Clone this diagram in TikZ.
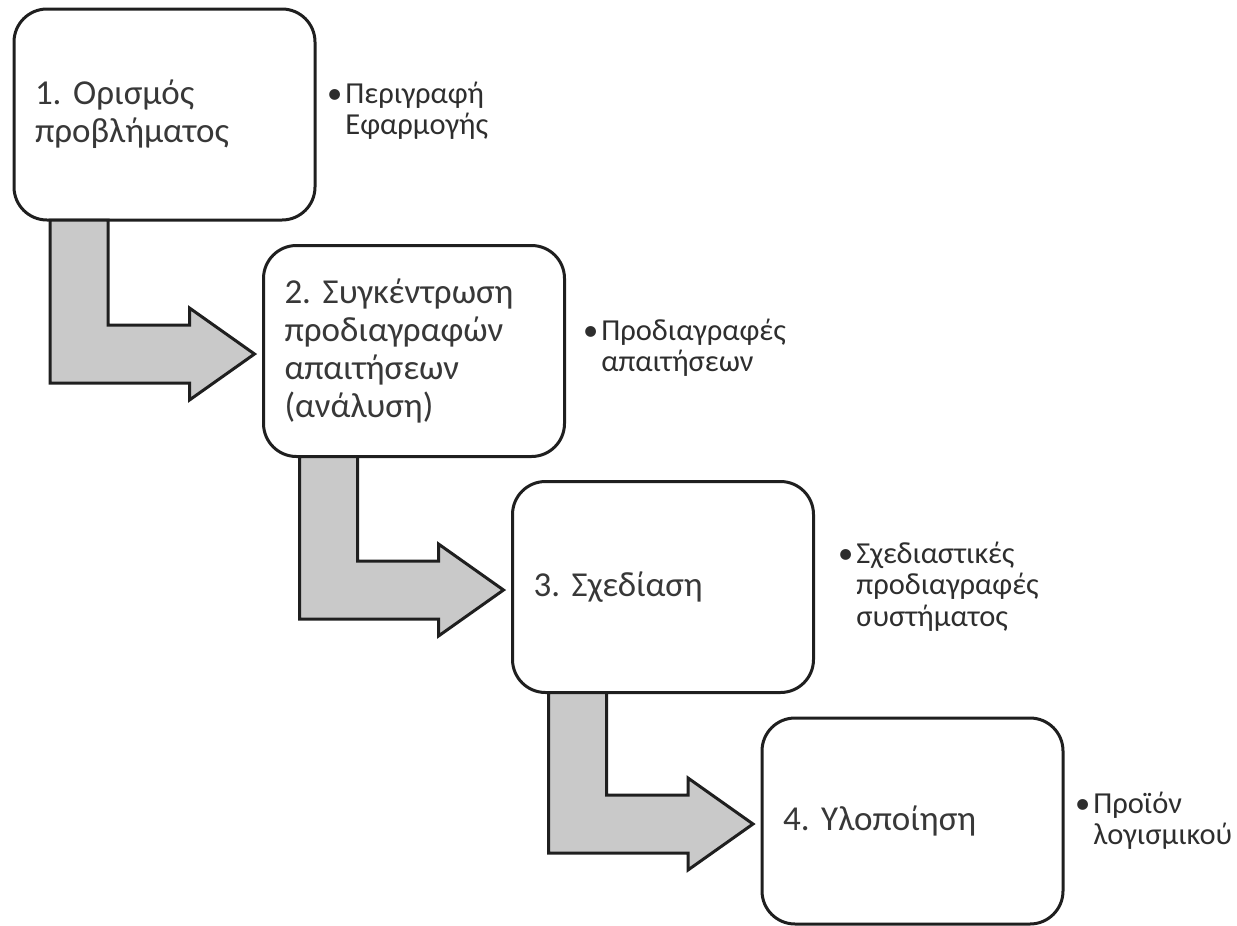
\documentclass[tikz,border=0pt]{standalone}
\usepackage{fontspec}
\setmainfont{Carlito}
\frenchspacing
\usetikzlibrary{calc}
\tikzset{
  stage/.style={draw=black!88, line width=3pt, rounded corners=33pt, fill=white,
    minimum width=301pt, minimum height=211pt, text width=259pt, inner xsep=21pt,
    inner ysep=0pt, align=left, outer sep=0pt, font=\fontsize{35}{38}\selectfont, text=black!78},
  note/.style={anchor=base west, inner sep=0pt, font=\fontsize{30.5}{31.5}\selectfont, text=black!82},
  flowarrow/.style={draw=black!88, line width=3pt, fill=black!21, line join=miter}
}
\newcommand{\bentarrow}[2]{%
  \draw[flowarrow] let \p1=($(#1.south west)+(36pt,0)$), \p2=($(#2.west)+(-9pt,-3pt)$) in
    (\x1,\y1) -- (\x1+58pt,\y1) -- (\x1+58pt,\y2+29pt) -- (\x2-65pt,\y2+29pt)
    -- (\x2-65pt,\y2+46pt) -- (\x2,\y2) -- (\x2-65pt,\y2-46pt) -- (\x2-65pt,\y2-29pt)
    -- (\x1,\y2-29pt) -- cycle;}
\begin{document}
\begin{tikzpicture}[x=1pt,y=-1pt]
\useasboundingbox (0,0) rectangle (1237,926);
\node[stage] (b1) at (164.5,114.5) {1. Ορισμός\\προβλήματος};
\node[stage] (b2) at (414,351) {2. Συγκέντρωση\\προδιαγραφών\\απαιτήσεων\\(ανάλυση)};
\node[stage] (b3) at (663,587) {3. Σχεδίαση};
\node[stage, minimum height=206pt] (b4) at (912.5,821) {4. Υλοποίηση};
\bentarrow{b1}{b2}
\bentarrow{b2}{b3}
\bentarrow{b3}{b4}
\node[note] (n1) at (327,103) {\begin{tabular}[t]{@{}l@{\hspace{3pt}}l@{}}\textbullet & Περιγραφή\\ & Εφαρμογής\end{tabular}};
\node[note] (n2) at (583,340) {\begin{tabular}[t]{@{}l@{\hspace{3pt}}l@{}}\textbullet & Προδιαγραφές\\ & απαιτήσεων\end{tabular}};
\node[note] (n3) at (838,563) {\begin{tabular}[t]{@{}l@{\hspace{3pt}}l@{}}\textbullet & Σχεδιαστικές\\ & προδιαγραφές\\ & συστήματος\end{tabular}};
\node[note] (n4) at (1075,813) {\begin{tabular}[t]{@{}l@{\hspace{3pt}}l@{}}\textbullet & Προϊόν\\ & λογισμικού\end{tabular}};
\end{tikzpicture}
\end{document}
